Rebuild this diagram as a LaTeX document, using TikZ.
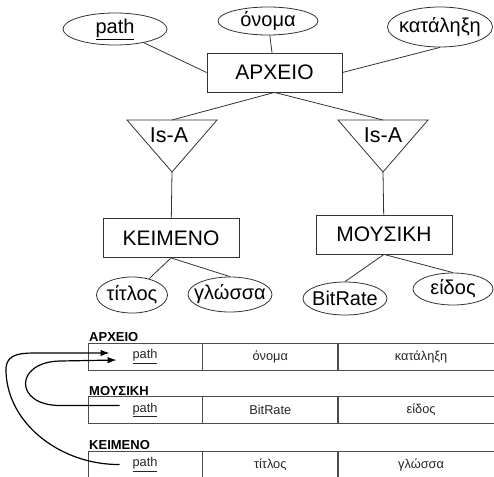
\documentclass[tikz,border=0pt]{standalone}
\usepackage{fontspec}
\setmainfont{Liberation Sans}
\usetikzlibrary{shapes.geometric,positioning,arrows.meta}

\begin{document}
\begin{tikzpicture}[x=1pt,y=-1pt,
	line/.style={draw=black!80,line width=0.8pt},
	entity/.style={line,minimum width=136pt,minimum height=39pt,inner sep=0pt,font=\fontsize{21}{25}\selectfont},
	attr/.style={line,ellipse,inner sep=0pt,label={[font=\fontsize{20}{24}\selectfont]center:#1}},
	cell/.style={draw=black!70,line width=0.8pt,minimum height=27pt,inner sep=0pt,text=black!85,font=\fontsize{12.8}{15}\selectfont},
	tname/.style={anchor=base west,inner sep=0pt,font=\bfseries\fontsize{13}{15}\selectfont},
	ref/.style={-{Latex[length=9pt,width=6.5pt]},line width=1.2pt}]
	\useasboundingbox (0,0) rectangle (494,476);
	%entities
	\node[entity,minimum width=135pt] (archeio) at (274.5,72.5) {ΑΡΧΕΙΟ};
	\node[entity] (keimeno) at (171,238) {ΚΕΙΜΕΝΟ};
	\node[entity] (mousiki) at (384,234.5) {ΜΟΥΣΙΚΗ};
	%attributes
	\node[attr={\underline{path}},minimum width=104pt,minimum height=32pt] (path) at (115,29) {};
	\node[attr=όνομα,minimum width=100pt,minimum height=28pt] (onoma) at (268,21) {};
	\node[attr=κατάληξη,minimum width=105pt,minimum height=40pt] (katalixi) at (440,27) {};
	\node[attr=τίτλος,minimum width=71pt,minimum height=36pt] (titlos) at (132,295) {};
	\node[attr=γλώσσα,minimum width=84pt,minimum height=35pt] (glossa) at (230,294.5) {};
	\node[attr=BitRate,minimum width=84pt,minimum height=33pt] (bitrate) at (345,298.5) {};
	\node[attr=είδος,minimum width=80pt,minimum height=32pt] (eidos) at (453,289) {};
	%Is-A triangles
	\coordinate (isa1) at (172,120);
	\coordinate (apex1) at (172,172);
	\coordinate (isa2) at (383,120);
	\coordinate (apex2) at (383,172);
	\draw[line] (127,120) -- (217,120) -- (apex1) -- cycle;
	\draw[line] (338,120) -- (428,120) -- (apex2) -- cycle;
	\node[font=\fontsize{21.5}{25}\selectfont] (isaname1) at (169,135) {Is-A};
	\node[font=\fontsize{21.5}{25}\selectfont] (isaname2) at (383,135) {Is-A};
	%ER lines
	\draw[line] (path) -- (archeio.west);
	\draw[line] (onoma) -- (archeio);
	\draw[line] (katalixi.south) -- (archeio.east);
	\draw[line] (archeio.south) -- (isa1);
	\draw[line] (archeio.south) -- (isa2);
	\draw[line] (apex1) -- (keimeno);
	\draw[line] (apex2) -- (mousiki);
	\draw[line] (keimeno.south) -- (titlos);
	\draw[line] (keimeno.south) -- (glossa.north);
	\draw[line] (mousiki.south) -- (bitrate.north);
	\draw[line] (mousiki.south) -- (eidos.north);
	%tables
	\node[tname] (tarcheio) at (89,341) {ΑΡΧΕΙΟ};
	\node[cell,minimum width=114pt] (a1) at (145,356.5) {\underline{path}};
	\node[cell,minimum width=135pt,right=0pt of a1] (a2) {όνομα};
	\node[cell,minimum width=165pt,right=0pt of a2] (a3) {κατάληξη};
	\node[tname] (tmousiki) at (89,395.5) {ΜΟΥΣΙΚΗ};
	\node[cell,minimum width=114pt] (m1) at (145,410) {\underline{path}};
	\node[cell,minimum width=135pt,right=0pt of m1] (m2) {BitRate};
	\node[cell,minimum width=165pt,right=0pt of m2] (m3) {είδος};
	\node[tname] (tkeimeno) at (89,449.5) {ΚΕΙΜΕΝΟ};
	\node[cell,minimum width=114pt] (k1) at (145,464.5) {\underline{path}};
	\node[cell,minimum width=135pt,right=0pt of k1] (k2) {τίτλος};
	\node[cell,minimum width=165pt,right=0pt of k2] (k3) {γλώσσα};
	%foreign keys
	\draw[ref] ([xshift=32pt,yshift=4.5pt]m1.west) -- (60,405.5) .. controls (14,405.5) and (14,362) .. (60,361) -- ([xshift=29pt,yshift=-3.5pt]a1.west);
	\draw[ref] ([xshift=32pt]k1.west) .. controls (62,465) and (8,425) .. (6,372) .. controls (5,356) and (15,353) .. (35,353) -- ([xshift=22pt,yshift=3.5pt]a1.west);
\end{tikzpicture}
\end{document}
